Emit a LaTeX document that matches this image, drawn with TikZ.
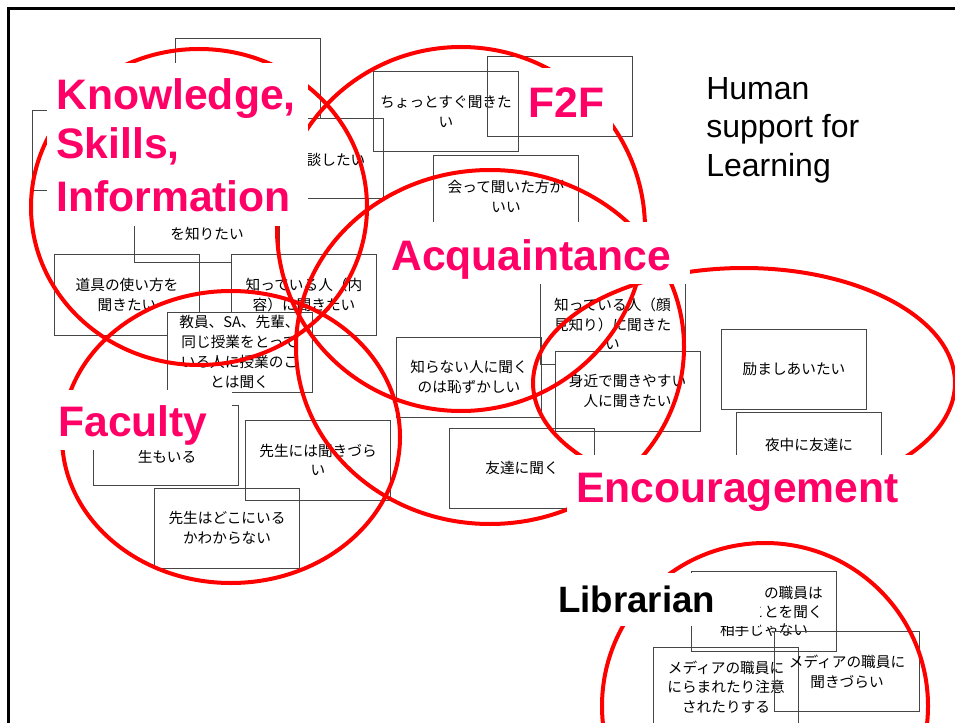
\documentclass[tikz,border=0pt]{standalone}
\usepackage{fontspec}
\setmainfont{Liberation Sans}
\newfontfamily\cjk{Noto Sans CJK JP}
\definecolor{labelpink}{RGB}{255,0,102}
\definecolor{boxgray}{RGB}{70,70,70}
\tikzset{
  box/.style={draw=boxgray, line width=0.75pt, minimum width=108.75pt, minimum height=60pt,
    inner sep=0pt, align=center, font=\cjk\fontsize{11}{14.8}\selectfont},
  whitebox/.style={box, fill=white},
  jtext/.style={inner sep=0pt, font=\cjk\fontsize{11}{14.8}\selectfont},
  ring/.style={draw=red, line width=3pt},
  cover/.style={fill=white},
  biglabel/.style={text=labelpink, font=\bfseries\fontsize{32}{38.4}\selectfont, anchor=base west, inner sep=0pt},
  blacklabel/.style={text=black, font=\bfseries\fontsize{27.5}{33}\selectfont, anchor=base west, inner sep=0pt},
  titletext/.style={text=black, font=\fontsize{24}{28.8}\selectfont, anchor=base west, inner sep=0pt}
}
\begin{document}
\begin{tikzpicture}[x=0.75pt,y=-0.75pt]
\useasboundingbox (0,0) rectangle (955,723);
% frame
\draw[line width=2pt] (8.7,730) -- (8.7,8.7) -- (965,8.7);
% boxes
\node[box] (A) at (247.5,79) {};
\node[box] (B) at (104.5,151) {};
\node[box] (C) at (310.5,159) {};
\node[jtext] (Ct) at (336,160) {談したい};
\node[box] (E) at (127,295) {道具の使い方を\\聞きたい};
\node[box] (D) at (207,223) {};
\node[jtext] (Dt) at (207,234) {を知りたい};
\node[whitebox] (F) at (304,295) {知っている人（内\\容）に聞きたい};
\node[whitebox] (G) at (239.5,352) {教員、SA、先輩、\\同じ授業をとって\\いる人に授業のこ\\とは聞く};
\node[box] (H) at (446,112) {ちょっとすぐ聞きた\\い};
\node[box] (I) at (560,97) {};
\node[box] (J) at (506,196) {会って聞いた方が\\いい};
\node[box] (K) at (612.5,324) {知っている人（顔\\見知り）に聞きた\\い};
\node[whitebox] (L) at (627.5,391) {身近で聞きやすい\\人に聞きたい};
\node[box] (M) at (469,377) {知らない人に聞く\\のは恥ずかしい};
\node[box] (N) at (522,468) {友達に聞く};
\node[box] (O) at (794,369) {励ましあいたい};
\node[box] (P) at (809,452) {};
\node[jtext] (Pt) at (809,445) {夜中に友達に};
\node[box] (Q) at (166,445) {};
\node[jtext] (Qt) at (167,457) {生もいる};
\node[box] (R) at (318,460) {先生には聞きづら\\い};
\node[box] (S) at (227,528) {先生はどこにいる\\かわからない};
\node[box] (T) at (764,611) {};
\node[jtext, anchor=east, align=right] (Tt) at (823,602.5) {の職員は\\ことを聞く};
\node[jtext] (Tt3) at (764,630) {相手じゃない};
\node[box] (U) at (726,687) {メディアの職員に\\にらまれたり注意\\されたりする};
\node[box] (V) at (847,671.5) {メディアの職員に\\聞きづらい};
% red rings
\draw[ring] (199,207) ellipse [x radius=168, y radius=158];
\draw[ring] (461,229) ellipse [x radius=184, y radius=182];
\draw[ring] (490,347) ellipse [x radius=194, y radius=177];
\draw[ring] (231,437) ellipse [x radius=169, y radius=146];
\draw[ring] (744,383) ellipse [x radius=211, y radius=115];
\draw[ring] (765,706) ellipse [x radius=163, y radius=163];
% label backgrounds
\fill[cover] (47,63) rectangle (308,226);
\fill[cover] (520,68) rectangle (613,133);
\fill[cover] (385,222) rectangle (690,284);
\fill[cover] (45,390) rectangle (232,450);
\fill[cover] (567,455) rectangle (960,520);
\fill[cover] (555,573) rectangle (760,626);
% labels
\node[biglabel] (kn1) at (56,110) {Knowledge,};
\node[biglabel] (kn2) at (56,159) {Skills,};
\node[biglabel] (kn3) at (56,212) {Information};
\node[biglabel] (f2f) at (528,118) {F2F};
\node[biglabel] (acq) at (391,271) {Acquaintance};
\node[biglabel] (fac) at (58,436) {Faculty};
\node[biglabel] (enc) at (576,502) {Encouragement};
\node[blacklabel] (lib) at (558,612) {Librarian};
\node[titletext] (h1) at (706,100) {Human};
\node[titletext] (h2) at (706,138) {support for};
\node[titletext] (h3) at (706,177) {Learning};
\end{tikzpicture}
\end{document}
